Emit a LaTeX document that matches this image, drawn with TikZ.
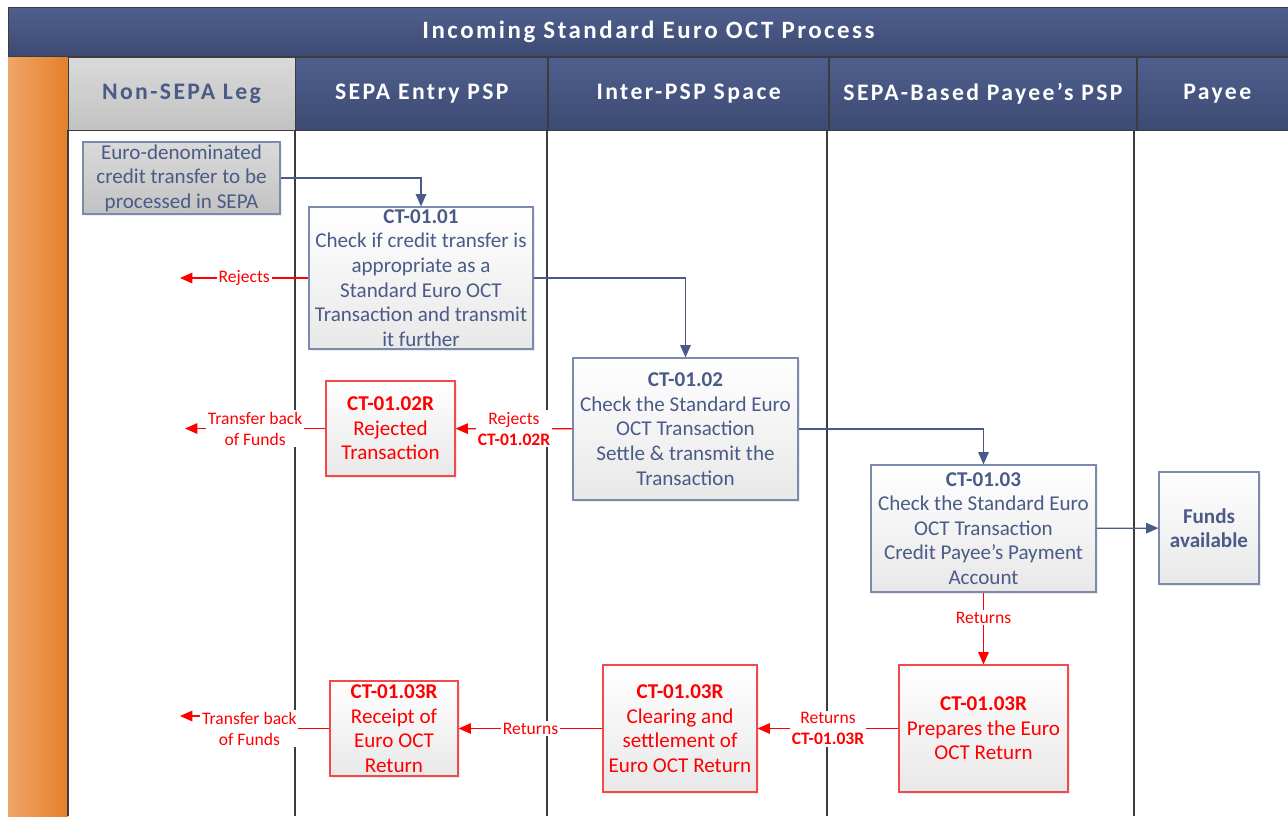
\documentclass[tikz,border=0pt]{standalone}
\usepackage{fontspec}
\setmainfont{Carlito}
\newfontfamily\headfont[LetterSpace=10]{Carlito}
\usetikzlibrary{arrows.meta,positioning,shadows}
\definecolor{slate}{HTML}{4B5B87}
\definecolor{boxline}{HTML}{7C8AAE}
\definecolor{bartop}{HTML}{4F5F8D}
\definecolor{barbot}{HTML}{3D4B73}
\definecolor{greytop}{HTML}{DADADA}
\definecolor{greybot}{HTML}{C2C2C2}
\definecolor{orangel}{HTML}{F0A568}
\definecolor{oranger}{HTML}{E4802A}
\definecolor{retline}{HTML}{F24A4A}
\definecolor{lanegrey}{HTML}{3C3C3C}
\begin{document}
\begin{tikzpicture}[
    x=0.02cm, y=-0.02cm,
    every node/.style={font=\fontsize{12}{14}\selectfont},
    bar/.style={draw=lanegrey, line width=0.5pt, top color=bartop, bottom color=barbot,
      text=white, font=\headfont\fontsize{13.5}{16}\selectfont\bfseries, minimum height=1.46cm},
    greybar/.style={bar, top color=greytop, bottom color=greybot, text=slate},
    procbox/.style={draw=boxline, line width=0.7pt, top color=white, bottom color=black!9,
      text=slate, align=center, inner sep=1pt,
      drop shadow={opacity=0.15, shadow xshift=1.2pt, shadow yshift=-1.2pt}},
    retbox/.style={procbox, draw=retline, text=red},
    flow/.style={draw=slate, line width=0.7pt, -{Triangle[length=7pt,width=6pt]}},
    back/.style={flow, draw=red},
    lbl/.style={fill=white, text=red, font=\fontsize{10}{12}\selectfont, align=center, inner sep=1pt},
    lane/.style={draw=lanegrey, line width=0.8pt},
  ]
  \useasboundingbox (0,0) rectangle (1288,816);
  \shade[left color=orangel, right color=oranger] (8,57) rectangle (68,816);
  \node[bar, minimum width=25.62cm, minimum height=0.98cm, font=\headfont\fontsize{14.2}{16}\selectfont\bfseries] (title) at (648.5,31.5) {Incoming Standard Euro OCT Process};
  \node[greybar, minimum width=4.54cm] (nonsepa) at (181.5,93.5) {Non-SEPA Leg};
  \node[bar, minimum width=5.04cm, right=0pt of nonsepa] (entry) {SEPA Entry PSP};
  \node[bar, minimum width=5.6cm, right=0pt of entry] (inter) {Inter-PSP Space};
  \node[bar, minimum width=6.14cm, right=0pt of inter] (payeepsp) {SEPA-Based Payee’s PSP};
  \node[bar, minimum width=3.2cm, right=0pt of payeepsp] (payee) {Payee};
  \foreach \x in {68,295,547,827,1134}
    \draw[lane] (\x,130) -- (\x,816);

  \node[procbox, top color=greytop, bottom color=greybot, minimum width=3.94cm, minimum height=1.44cm] (src) at (181.5,178) {Euro-denominated\\credit transfer to be\\processed in SEPA};
  \node[procbox, minimum width=4.48cm, minimum height=2.84cm] (ct0101) at (421,278) {\textbf{CT-01.01}\\Check if credit transfer is\\appropriate as a\\Standard Euro OCT\\Transaction and transmit\\it further};
  \node[procbox, minimum width=4.5cm, minimum height=2.84cm] (ct0102) at (685.5,429) {\textbf{CT-01.02}\\Check the Standard Euro\\OCT Transaction\\Settle \& transmit the\\Transaction};
  \node[procbox, minimum width=4.5cm, minimum height=2.54cm] (ct0103) at (983.5,528.5) {\textbf{CT-01.03}\\Check the Standard Euro\\OCT Transaction\\Credit Payee’s Payment\\Account};
  \node[procbox, minimum width=2cm, minimum height=2.24cm, font=\fontsize{12}{14}\selectfont\bfseries] (funds) at (1209,528) {Funds\\available};
  \node[retbox, minimum width=2.58cm, minimum height=1.9cm] (ct0102r) at (390.5,428.5) {\textbf{CT-01.02R}\\Rejected\\Transaction};
  \node[retbox, minimum width=3.38cm, minimum height=2.54cm] (prep) at (983.5,728.5) {\textbf{CT-01.03R}\\Prepares the Euro\\OCT Return};
  \node[retbox, minimum width=3.08cm, minimum height=2.54cm] (clear) at (680,728.5) {\textbf{CT-01.03R}\\Clearing and\\settlement of\\Euro OCT Return};
  \node[retbox, minimum width=2.56cm, minimum height=1.9cm] (receipt) at (394,728.5) {\textbf{CT-01.03R}\\Receipt of\\Euro OCT\\Return};

  \coordinate (out1) at (180,278);
  \coordinate (out2) at (185,428.5);
  \coordinate (out3) at (180,716);

  \draw[flow] (src.east) -| (ct0101.north);
  \draw[flow] (ct0101.east) -| (ct0102.north);
  \draw[flow] (ct0102.east) -| (ct0103.north);
  \draw[flow] (ct0103) -- (funds);

  \draw[back] (ct0101.west) -- node[lbl] {Rejects} (out1);
  \draw[back] (ct0102) -- node[lbl] {Rejects\\\textbf{CT-01.02R}} (ct0102r);
  \draw[back] (ct0102r) -- node[lbl] {Transfer back\\of Funds} (out2);
  \draw[back] (ct0103) -- node[lbl, pos=0.35] {Returns} (prep);
  \draw[back] (prep) -- node[lbl] {Returns\\\textbf{CT-01.03R}} (clear);
  \draw[back] (clear) -- node[lbl] {Returns} (receipt);
  \draw[back] (receipt.west) -- ++(-80,0) node[lbl] {Transfer back\\of Funds} |- (out3);
\end{tikzpicture}
\end{document}
